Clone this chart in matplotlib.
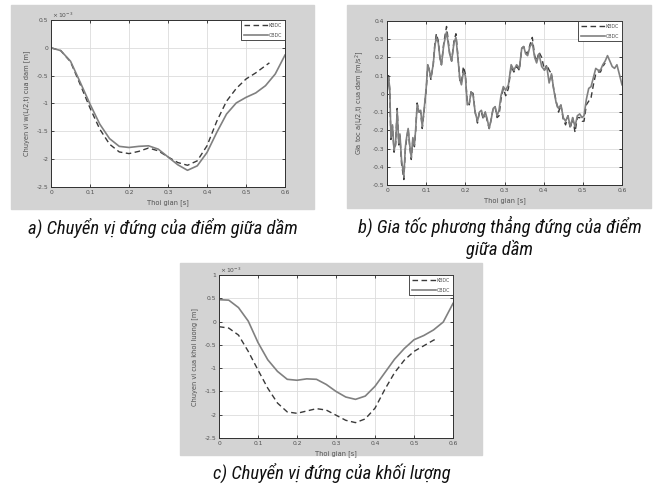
import matplotlib
matplotlib.use('Agg')
import matplotlib.pyplot as plt
from matplotlib.patches import Rectangle
from matplotlib.ticker import FuncFormatter
from matplotlib import font_manager

# ---- data ----
# a) and c): time grid for the solid (CBDC) curves and the dashed (KBDC) ones
t_cb = [0.0, 0.025, 0.05, 0.075, 0.1, 0.125, 0.15, 0.175, 0.2, 0.225, 0.25, 0.275, 0.3,
        0.325, 0.35, 0.375, 0.4, 0.425, 0.45, 0.475, 0.5, 0.525, 0.55, 0.575, 0.6]
t_kb = [0.0, 0.025, 0.05, 0.075, 0.1, 0.125, 0.15, 0.175, 0.2, 0.225, 0.25, 0.275, 0.3,
        0.325, 0.35, 0.375, 0.4, 0.425, 0.45, 0.475, 0.5, 0.525, 0.55, 0.56]

# a) midpoint displacement (x 1e-3 m)
cb_a = [0.00, -0.05, -0.24, -0.62, -1.01, -1.37, -1.63, -1.77, -1.79, -1.77, -1.76, -1.82, -1.96,
        -2.10, -2.20, -2.12, -1.88, -1.52, -1.19, -0.99, -0.89, -0.81, -0.68, -0.47, -0.13]
kb_a = [0.00, -0.05, -0.25, -0.66, -1.08, -1.46, -1.73, -1.87, -1.90, -1.86, -1.80, -1.85, -1.96,
        -2.06, -2.11, -2.03, -1.76, -1.32, -0.96, -0.73, -0.56, -0.45, -0.32, -0.27]

# c) mass displacement (x 1e-3 m)
cb_c = [0.47, 0.46, 0.30, 0.01, -0.45, -0.82, -1.07, -1.24, -1.26, -1.23, -1.24, -1.35, -1.50,
        -1.62, -1.67, -1.60, -1.39, -1.10, -0.81, -0.58, -0.39, -0.30, -0.18, -0.01, 0.39]
kb_c = [-0.11, -0.14, -0.29, -0.64, -1.04, -1.43, -1.75, -1.94, -1.97, -1.92, -1.87, -1.90, -2.01,
        -2.12, -2.17, -2.09, -1.86, -1.46, -1.10, -0.83, -0.64, -0.52, -0.40, -0.36]

# b) midpoint acceleration (m/s^2)
t_b = [0.000, 0.004, 0.007, 0.010, 0.014, 0.018, 0.022, 0.026, 0.030, 0.033,
       0.037, 0.043, 0.047, 0.050, 0.054, 0.058, 0.062, 0.066, 0.070, 0.073,
       0.077, 0.082, 0.086, 0.090, 0.095, 0.100, 0.104, 0.107, 0.112, 0.118,
       0.122, 0.126, 0.131, 0.135, 0.139, 0.145, 0.152, 0.156, 0.160, 0.165,
       0.171, 0.176, 0.181, 0.186, 0.190, 0.195, 0.200, 0.205, 0.210, 0.215,
       0.220, 0.225, 0.231, 0.236, 0.241, 0.246, 0.251, 0.256, 0.261, 0.266,
       0.271, 0.276, 0.281, 0.286, 0.291, 0.297, 0.303, 0.310, 0.317, 0.324,
       0.331, 0.338, 0.344, 0.349, 0.354, 0.359, 0.365, 0.371, 0.377, 0.382,
       0.388, 0.395, 0.402, 0.408, 0.414, 0.420, 0.426, 0.432, 0.438, 0.444,
       0.450, 0.456, 0.462, 0.468, 0.474, 0.480, 0.486, 0.492, 0.498, 0.503,
       0.509, 0.515, 0.521, 0.527, 0.533, 0.539, 0.545, 0.551, 0.557, 0.563,
       0.569, 0.575, 0.581, 0.587, 0.593, 0.600]
cb_b = [0.00, 0.09, 0.03, -0.24, -0.17, -0.31, -0.27, -0.09, -0.27, -0.22,
        -0.36, -0.45, -0.29, -0.24, -0.19, -0.28, -0.35, -0.24, -0.28, -0.20,
        -0.06, -0.10, -0.09, -0.18, -0.08, 0.03, 0.16, 0.14, 0.09, 0.16,
        0.26, 0.31, 0.28, 0.20, 0.16, 0.27, 0.34, 0.28, 0.22, 0.18,
        0.28, 0.31, 0.20, 0.08, 0.05, 0.12, 0.10, -0.06, -0.05, 0.01,
        -0.01, -0.10, -0.15, -0.10, -0.09, -0.13, -0.10, -0.14, -0.19, -0.14,
        -0.08, -0.07, -0.12, -0.09, -0.01, 0.04, 0.02, 0.05, 0.16, 0.13,
        0.16, 0.14, 0.25, 0.26, 0.22, 0.21, 0.26, 0.28, 0.20, 0.17,
        0.22, 0.15, 0.13, 0.15, 0.06, 0.11, 0.02, -0.05, -0.08, -0.06,
        -0.13, -0.15, -0.12, -0.18, -0.13, -0.18, -0.12, -0.11, -0.13, -0.12,
        -0.03, 0.03, 0.04, 0.09, 0.14, 0.13, 0.13, 0.16, 0.18, 0.21,
        0.18, 0.15, 0.14, 0.16, 0.11, 0.05]
kb_b = [0.00, 0.10, 0.02, -0.25, -0.18, -0.32, -0.28, -0.08, -0.28, -0.23,
        -0.38, -0.47, -0.30, -0.25, -0.19, -0.29, -0.36, -0.25, -0.29, -0.21,
        -0.05, -0.10, -0.10, -0.19, -0.09, 0.02, 0.15, 0.14, 0.08, 0.16,
        0.27, 0.33, 0.29, 0.20, 0.16, 0.28, 0.37, 0.30, 0.22, 0.18,
        0.29, 0.33, 0.21, 0.07, 0.06, 0.15, 0.11, -0.05, -0.06, 0.02,
        0.00, -0.10, -0.16, -0.10, -0.10, -0.14, -0.10, -0.15, -0.19, -0.14,
        -0.08, -0.07, -0.13, -0.12, -0.03, 0.03, -0.01, 0.03, 0.15, 0.12,
        0.15, 0.13, 0.25, 0.26, 0.23, 0.22, 0.27, 0.31, 0.21, 0.18,
        0.23, 0.20, 0.13, 0.16, 0.13, 0.11, 0.02, -0.04, -0.10, -0.06,
        -0.14, -0.17, -0.12, -0.19, -0.13, -0.21, -0.13, -0.13, -0.15, -0.15,
        -0.06, -0.04, -0.02, 0.05, 0.11, 0.12, 0.12, 0.15, 0.17]

x_ticks = [0, 0.1, 0.2, 0.3, 0.4, 0.5, 0.6]
yt_a = [-2.5, -2, -1.5, -1, -0.5, 0, 0.5]
yt_b = [-0.5, -0.4, -0.3, -0.2, -0.1, 0, 0.1, 0.2, 0.3, 0.4]
yt_c = [-2.5, -2, -1.5, -1, -0.5, 0, 0.5, 1]

cap_a = 'a) Chuyển vị đứng của điểm giữa dầm'
cap_b = 'b) Gia tốc phương thẳng đứng của điểm\ngiữa dầm'
cap_c = 'c) Chuyển vị đứng của khối lượng'

# ---- style ----
W, H = 654, 488
panel_gray = '#d3d3d3'
c_solid = '#808080'
c_dash = '#3a3a3a'
txt_gray = '#505050'

# a narrow italic face for the captions if one is installed
names = {f.name for f in font_manager.fontManager.ttflist}
cap_font, cap_size = 'Roboto', 11.9
for name, size in [('Liberation Sans Narrow', 13.9), ('Roboto Condensed', 13.4),
                   ('Open Sans Condensed', 13.4), ('Noto Sans Condensed', 13.4),
                   ('DejaVu Sans Condensed', 12.3)]:
    if name in names:
        cap_font, cap_size = name, size
        break

fmt = FuncFormatter(lambda v, _: '%g' % round(v, 3))


def frac(x0, y0, x1, y1):
    # pixel box (top-left origin) -> figure fraction
    return [x0 / W, 1 - y1 / H, (x1 - x0) / W, (y1 - y0) / H]


def style(ax, yt, ylabel):
    ax.set_xlim(0, 0.6)
    ax.set_ylim(yt[0], yt[-1])
    ax.set_xticks(x_ticks)
    ax.set_yticks(yt)
    ax.xaxis.set_major_formatter(fmt)
    ax.yaxis.set_major_formatter(fmt)
    ax.grid(True, color='#dcdcdc', lw=0.6)
    ax.set_axisbelow(True)
    ax.tick_params(direction='in', length=2, width=0.5, labelsize=4.3,
                   labelcolor=txt_gray, top=True, right=True, pad=2)
    for s in ax.spines.values():
        s.set_linewidth(0.7)
        s.set_color('#303030')
    ax.set_xlabel('Thoi gian [s]', fontsize=4.8, color=txt_gray, labelpad=3)
    ax.set_ylabel(ylabel, fontsize=4.8, color=txt_gray, labelpad=5)
    leg = ax.legend(loc='upper right', fontsize=3.4, handlelength=5.0,
                    borderaxespad=0, fancybox=False, framealpha=1,
                    borderpad=0.6, labelspacing=1.0, handletextpad=0.2)
    leg.get_frame().set_edgecolor('#303030')
    leg.get_frame().set_linewidth(0.6)
    for t in leg.get_texts():
        t.set_color(txt_gray)


fig = plt.figure(figsize=(W / 100, H / 100), dpi=100)
fig.patch.set_facecolor('white')

for box in [(11, 5, 314, 209), (347, 5, 651, 208), (180, 263, 482, 455)]:
    x0, y0, x1, y1 = box
    fig.add_artist(Rectangle((x0 / W, 1 - y1 / H), (x1 - x0) / W, (y1 - y0) / H,
                             transform=fig.transFigure, color=panel_gray, zorder=0))

ax_a = fig.add_axes(frac(51, 20, 285, 187))
ax_b = fig.add_axes(frac(387, 21, 622, 185))
ax_c = fig.add_axes(frac(219, 275, 453, 438))

ls_dash = (0, (4, 2.5))

ax_a.plot(t_kb, kb_a, color=c_dash, lw=1.0, ls=ls_dash, label='KBDC')
ax_a.plot(t_cb, cb_a, color=c_solid, lw=1.2, label='CBDC')
style(ax_a, yt_a, 'Chuyen vi w(L/2,t) cua dam [m]')

ax_b.plot(t_b[:len(kb_b)], kb_b, color=c_dash, lw=1.0, ls=ls_dash, label='KBDC')
ax_b.plot(t_b, cb_b, color=c_solid, lw=1.2, label='CBDC')
style(ax_b, yt_b, 'Gia toc a(L/2,t) cua dam [m/s$^2$]')

ax_c.plot(t_kb, kb_c, color=c_dash, lw=1.0, ls=ls_dash, label='KBDC')
ax_c.plot(t_cb, cb_c, color=c_solid, lw=1.2, label='CBDC')
style(ax_c, yt_c, 'Chuyen vi cua khoi luong [m]')

for ax in (ax_a, ax_c):
    ax.text(0.005, 1.0, r'$\times\,10^{-3}$', transform=ax.transAxes,
            fontsize=4.3, color=txt_gray, va='bottom', ha='left')

cap_kw = dict(fontsize=cap_size, style='italic', family=[cap_font, 'DejaVu Sans'],
              color='#111111', ha='center', va='center')
fig.text(163 / W, 1 - 228 / H, cap_a, **cap_kw)
fig.text(500 / W, 1 - 237 / H, cap_b, linespacing=1.2, **cap_kw)
fig.text(332 / W, 1 - 473 / H, cap_c, **cap_kw)

fig.savefig('out.png', dpi=100)
